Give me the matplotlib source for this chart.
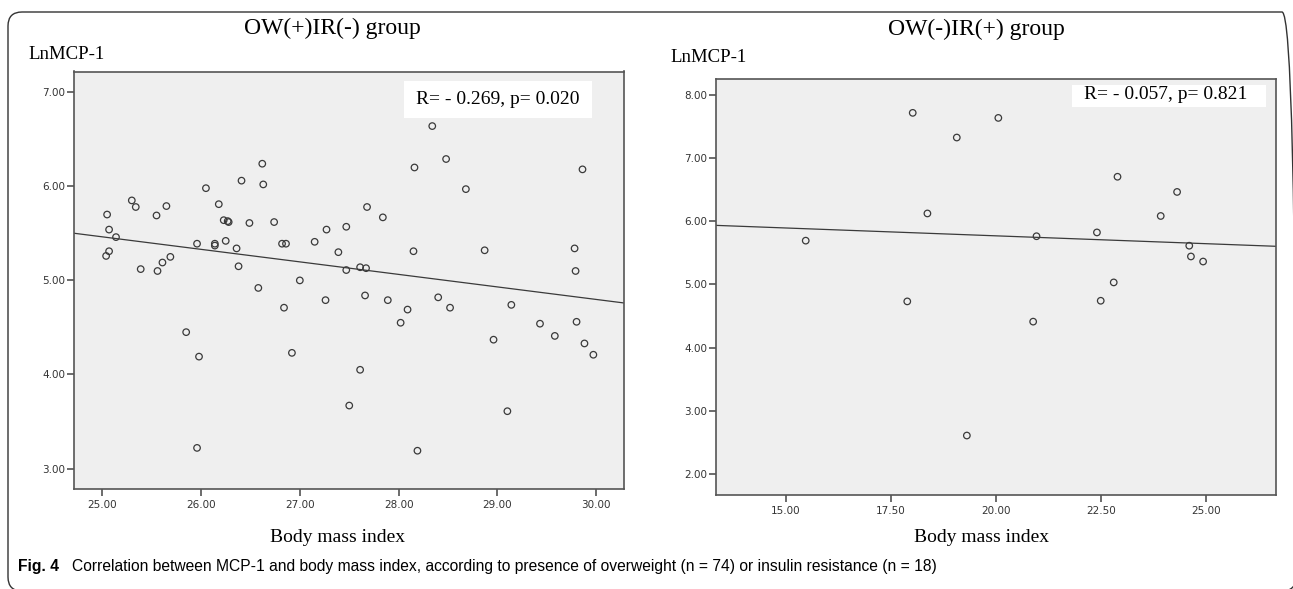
import matplotlib.pyplot as plt
import numpy as np
from matplotlib.patches import Rectangle, FancyBboxPatch
from matplotlib.transforms import IdentityTransform
from matplotlib.ticker import FormatStrFormatter

# OW(+)IR(-) group, n = 74
bmi_ow = [25.05, 25.07, 25.14, 25.07, 25.04, 25.30, 25.34, 25.39, 25.55, 25.65,
          25.56, 25.61, 25.69, 25.96, 26.05, 26.14, 26.14, 26.18, 26.23, 26.27,
          26.28, 26.25, 26.41, 26.36, 26.38, 26.49, 26.62, 26.63, 26.74, 26.58,
          26.82, 26.86, 26.84, 27.00, 27.15, 27.27, 27.26, 25.85, 25.98, 25.96,
          26.92, 28.34, 28.48, 28.16, 29.86, 28.68, 27.68, 27.84, 27.47, 27.39,
          28.15, 28.87, 29.78, 29.79, 27.47, 27.61, 27.67, 27.66, 27.89, 28.40,
          28.09, 28.52, 29.14, 28.02, 29.43, 29.80, 29.58, 29.88, 29.97, 28.96,
          27.61, 27.50, 29.10, 28.19]
mcp_ow = [5.70, 5.54, 5.46, 5.31, 5.26, 5.85, 5.78, 5.12, 5.69, 5.79,
          5.10, 5.19, 5.25, 5.39, 5.98, 5.39, 5.37, 5.81, 5.64, 5.63,
          5.62, 5.42, 6.06, 5.34, 5.15, 5.61, 6.24, 6.02, 5.62, 4.92,
          5.39, 5.39, 4.71, 5.00, 5.41, 5.54, 4.79, 4.45, 4.19, 3.22,
          4.23, 6.64, 6.29, 6.20, 6.18, 5.97, 5.78, 5.67, 5.57, 5.30,
          5.31, 5.32, 5.34, 5.10, 5.11, 5.14, 5.13, 4.84, 4.79, 4.82,
          4.69, 4.71, 4.74, 4.55, 4.54, 4.56, 4.41, 4.33, 4.21, 4.37,
          4.05, 3.67, 3.61, 3.19]

# OW(-)IR(+) group, n = 18
bmi_ir = [18.02, 19.07, 18.37, 15.47, 17.89, 20.06, 22.90, 24.32, 23.93,
          20.97, 22.41, 24.61, 24.65, 24.94, 22.81, 22.50, 20.89, 19.31]
mcp_ir = [7.71, 7.32, 6.12, 5.69, 4.73, 7.63, 6.70, 6.46, 6.08,
          5.76, 5.82, 5.61, 5.44, 5.36, 5.03, 4.74, 4.41, 2.61]

xticks_ow = [25, 26, 27, 28, 29, 30]
yticks_ow = [3, 4, 5, 6, 7]
xticks_ir = [15, 17.5, 20, 22.5, 25]
yticks_ir = [2, 3, 4, 5, 6, 7, 8]

W, H = 1293, 589
fig = plt.figure(figsize=(W / 100, H / 100), dpi=100)
serif = "Liberation Serif"


def axes_px(left, top, right, bottom):
    return fig.add_axes([left / W, 1 - bottom / H, (right - left) / W, (bottom - top) / H])


def style(ax, x, y, xticks, yticks, xlim, ylim):
    ax.set_facecolor("#efefef")
    ax.scatter(x, y, s=22, facecolors="none", edgecolors="#3a3a3a", linewidths=0.9, zorder=3)
    slope, icpt = np.polyfit(x, y, 1)
    xs = np.array(xlim)
    ax.plot(xs, icpt + slope * xs, color="#3a3a3a", lw=0.9, zorder=2)
    ax.set_xlim(xlim)
    ax.set_ylim(ylim)
    ax.set_xticks(xticks)
    ax.set_yticks(yticks)
    ax.xaxis.set_major_formatter(FormatStrFormatter("%.2f"))
    ax.yaxis.set_major_formatter(FormatStrFormatter("%.2f"))
    ax.tick_params(length=5, width=1.1, color="#444", labelsize=7.5,
                   labelcolor="#333")
    ax.tick_params(axis="y", pad=1)
    ax.tick_params(axis="x", pad=3)
    for sp in ax.spines.values():
        sp.set_color("#555")
        sp.set_linewidth(1.2)


ax1 = axes_px(73.5, 71.5, 624, 489.3)
style(ax1, bmi_ow, mcp_ow, xticks_ow, yticks_ow, (24.71, 30.28), (2.78, 7.22))
ax1.add_patch(Rectangle((0.600, 0.889), 0.342, 0.088, transform=ax1.transAxes,
                        facecolor="white", edgecolor="none", zorder=4))
ax1.text(0.771, 0.933, "R= - 0.269, p= 0.020", transform=ax1.transAxes, ha="center",
         va="center", fontsize=14, family=serif, zorder=5)

ax2 = axes_px(715.5, 79, 1275.7, 495)
style(ax2, bmi_ir, mcp_ir, xticks_ir, yticks_ir, (13.32, 26.67), (1.67, 8.245))
ax2.add_patch(Rectangle((0.636, 0.933), 0.347, 0.053, transform=ax2.transAxes,
                        facecolor="white", edgecolor="none", zorder=4))
ax2.text(0.804, 0.962, "R= - 0.057, p= 0.821", transform=ax2.transAxes, ha="center",
         va="center", fontsize=14, family=serif, zorder=5)

# titles and axis labels
fig.text(332 / W, 1 - 34 / H, "OW(+)IR(-) group", ha="center", va="baseline",
         fontsize=17, family=serif)
fig.text(976 / W, 1 - 35 / H, "OW(-)IR(+) group", ha="center", va="baseline",
         fontsize=17, family=serif)
fig.text(28 / W, 1 - 59 / H, "LnMCP-1", ha="left", va="baseline", fontsize=13.5, family=serif)
fig.text(670 / W, 1 - 62 / H, "LnMCP-1", ha="left", va="baseline", fontsize=13.5, family=serif)
fig.text(338 / W, 1 - 537 / H, "Body mass index", ha="center", va="center",
         fontsize=14, family=serif)
fig.text(982 / W, 1 - 537 / H, "Body mass index", ha="center", va="center",
         fontsize=14, family=serif)

fig.text(18 / W, 1 - 566 / H, "Fig. 4", ha="left", va="center", fontsize=11.25,
         weight="bold", family="Liberation Sans")
fig.text(72 / W, 1 - 566 / H,
         "Correlation between MCP-1 and body mass index, according to presence of "
         "overweight (n = 74) or insulin resistance (n = 18)",
         ha="left", va="center", fontsize=11.25, family="Liberation Sans")

frame = FancyBboxPatch((8, -2), 1288, H - 12 + 2, boxstyle="round,pad=0,rounding_size=14",
                       transform=IdentityTransform(), fill=False, edgecolor="#333", lw=1)
fig.add_artist(frame)

fig.savefig("out.png", dpi=100)
